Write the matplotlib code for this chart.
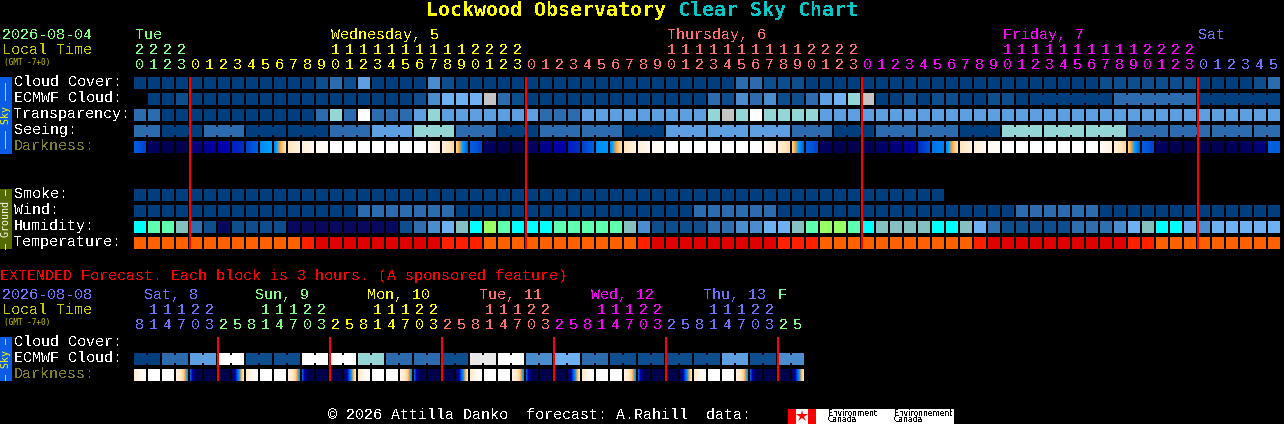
"""
Clear Sky Chart for Lockwood Observatory
"""
import numpy as np
import matplotlib
matplotlib.use("Agg")
import matplotlib.pyplot as plt
from matplotlib.colors import LinearSegmentedColormap

plt.rcParams["font.family"] = ["Liberation Mono", "DejaVu Sans Mono"]
plt.rcParams["text.antialiased"] = False

# hours of the hourly chart
hours = [20, 21, 22, 23] + list(range(24)) * 3 + [0, 1, 2, 3, 4, 5]
# which day each hour belongs to, index into day_colors
hour_days = [0] * 4 + [1] * 24 + [2] * 24 + [3] * 24 + [4] * 6
day_colors = ["#80ff80", "#ffff00", "#ff7070", "#ff00ff", "#7070ff"]
day_names = ["Tue", "Wednesday, 5", "Thursday, 6", "Friday, 7", "Sat"]
day_name_x = [135, 331, 667, 1003, 1198]

# sky rows, index into cloud_palette
cloud_palette = ["#003e7d", "#0f4e8e", "#2c6bad", "#4b8cce", "#5e9fe1",
                 "#6fb0f3", "#94d6d6", "#c4c4c4", "#e8e8e8", "#ffffff"]
cloud_cover = [0, 0, 0, 0, 0, 0, 0, 0, 0, 0, 0, 0, 0, 1, 2, 1, 4, 0, 0, 0,
               0, 3, 1, 0, 0, 0, 0, 0, 0, 0, 0, 0, 0, 0, 0, 0, 0, 0, 0, 0,
               0, 0, 0, 2, 2, 1, 1, 1, 0, 0, 0, 0, 0, 0, 0, 0, 0, 0, 0, 0,
               0, 0, 0, 0, 0, 0, 0, 0, 0, 1, 1, 1, 1, 1, 1, 1, 0, 0, 0, 0,
               1, 2]
ecmwf_cloud = [None, 0, 0, 1, 0, 0, 0, 0, 0, 0, 0, 0, 0, 0, 0, 0, 0, 0, 0, 0,
               1, 3, 5, 5, 5, 7, 2, 1, 0, 0, 0, 0, 0, 0, 0, 0, 0, 0, 0, 0,
               0, 2, 1, 3, 2, 3, 1, 1, 2, 4, 5, 6, 7, 0, 0, 1, 0, 1, 1, 0,
               0, 1, 1, 0, 0, 0, 0, 0, 0, 0, 2, 2, 2, 2, 2, 2, 0, 0, 0, 0,
               0, 0]
ecmwf_groups = [(64, 6), (70, 6), (76, 6)]
transparency = [2, 2, 0, 0, 0, 0, 0, 0, 0, 0, 0, 0, 0, 2, 6, 2, 9, 2, 2, 2,
                4, 6, 4, 4, 4, 4, 4, 4, 4, 2, 2, 2, 4, 4, 4, 4, 4, 4, 4, 4,
                4, 6, 7, 6, 9, 6, 6, 6, 6, 4, 4, 4, 4, 4, 4, 4, 4, 4, 4, 4,
                4, 4, 4, 4, 4, 4, 4, 4, 4, 4, 4, 4, 4, 4, 4, 4, 4, 4, 4, 4,
                4, 4]
seeing = [2, 2, 0, 0, 0, 2, 2, 2, 0, 0, 0, 0, 0, 0, 2, 2, 2, 4, 4, 4,
          6, 6, 6, 2, 2, 2, 0, 0, 0, 2, 2, 2, 2, 2, 2, 0, 0, 0, 4, 4,
          4, 4, 4, 4, 4, 4, 4, 2, 2, 2, 0, 0, 0, 2, 2, 2, 2, 2, 2, 0,
          0, 0, 6, 6, 6, 6, 6, 6, 6, 6, 6, 2, 2, 2, 2, 2, 2, 2, 2, 2,
          2, 2]
seeing_groups = [(0, 2)] + [(i, 3) for i in range(2, 80, 3)] + [(80, 2)]

# darkness at the left and right edge of each cell, 0 is daylight, 1 is dark
darkness_left = [.50, .92, .98, 1.0, .85, .72, .68, .60, .55, .42, .42, .16, .10, .04, 0, 0, 0, 0, 0, 0,
                 0, .02, .12, .24, .50, .92, .99, 1.0, .94, .78, .68, .60, .55, .42, .42, .16, .10, .04, 0, 0,
                 0, 0, 0, 0, 0, .02, .12, .24, .50, .92, .99, 1.0, .96, .92, .82, .74, .58, .46, .42, .16,
                 .10, .04, 0, 0, 0, 0, 0, 0, 0, .02, .12, .24, .50, .92, .99, 1.0, 1.0, .97, .95, .93,
                 .84, .50]
darkness_right = [.55, .95, .98, .98, .80, .70, .64, .58, .50, .38, .18, .10, .05, .02, 0, 0, 0, 0, 0, 0,
                  .01, .10, .20, .50, .55, .95, .99, .98, .92, .75, .66, .58, .50, .40, .18, .10, .05, .02, 0, 0,
                  0, 0, 0, 0, .01, .10, .20, .50, .55, .95, .99, .98, .94, .88, .80, .70, .52, .44, .18, .10,
                  .05, .02, 0, 0, 0, 0, 0, 0, .01, .10, .20, .50, .55, .95, .99, .98, .98, .96, .94, .90,
                  .80, .50]

# ground rows
smoke = [0] * 58
wind = [0] * 16 + [2] * 7 + [0] * 17 + [2] * 6 + [0] * 17 + [2] * 6 + [0] * 13
humidity_palette = ["#08085e", "#0f4e8e", "#2f6fb0", "#4b8cce", "#6fb0f3",
                    "#85c0c0", "#00ffff", "#5fffb0", "#99ff66"]
humidity = [6, 7, 7, 5, 2, 1, 0, 1, 1, 1, 1, 0, 0, 0, 0, 0, 0, 0, 0, 1,
            2, 3, 4, 5, 6, 8, 7, 6, 6, 6, 7, 7, 7, 7, 7, 5, 3, 1, 1, 1,
            1, 2, 2, 3, 3, 4, 4, 5, 7, 8, 8, 7, 6, 5, 5, 5, 5, 6, 6, 5,
            4, 2, 1, 1, 1, 1, 1, 2, 2, 2, 3, 4, 5, 6, 6, 4, 3, 4, 4, 4,
            4, 4]
temp_palette = ["#e00000", "#ff2000", "#ff6000"]
temperature = [2] * 12 + [1] + [0] * 9 + [1, 1, 1] + [2] * 11 + [1] + [0] * 9 + [1, 1, 1] \
    + [2] * 11 + [1] + [0] * 10 + [1, 1] + [2] * 9

# extended forecast, one value per 6 hour pair of blocks
ext_hours = [8, 11, 14, 17, 20, 23, 2, 5] * 6
ext_hour_days = [0] * 6 + [1] * 8 + [2] * 8 + [3] * 8 + [4] * 8 + [5] * 8 + [6] * 2
ext_day_colors = ["#7070ff", "#80ff80", "#ffff00", "#ff7070", "#ff00ff", "#7070ff", "#80ff80"]
ext_day_names = ["Sat, 8", "Sun, 9", "Mon, 10", "Tue, 11", "Wed, 12", "Thu, 13", "F"]
ext_day_x = [144, 255, 367, 479, 591, 703, 778]
ext_ecmwf = [0, 2, 4, 9, 1, 1, 9, 9, 6, 2, 2, 1, 8, 9, 3, 5, 2, 1, 1, 1, 1, 4, 1, 3]
ext_darkness_left = [.14, 0, 0, .08, .50, 1, 1, .85, .14, 0, 0, .08, .50, 1, 1, .85,
                     .14, 0, 0, .08, .50, 1, 1, .85, .14, 0, 0, .08, .50, 1, 1, .85,
                     .14, 0, 0, .08, .50, 1, 1, .85, .14, 0, 0, .08, .50, 1, 1, .85]
ext_darkness_mid = [.05, 0, 0, .18, 1, 1, 1, .46, .05, 0, 0, .18, 1, 1, 1, .46,
                    .05, 0, 0, .18, 1, 1, 1, .46, .05, 0, 0, .18, 1, 1, 1, .46,
                    .05, 0, 0, .18, 1, 1, 1, .46, .05, 0, 0, .18, 1, 1, 1, .46]
ext_darkness_right = [.02, 0, 0, .40, 1, 1, 1, .17, .02, 0, 0, .40, 1, 1, 1, .17,
                      .02, 0, 0, .40, 1, 1, 1, .17, .02, 0, 0, .40, 1, 1, 1, .17,
                      .02, 0, 0, .40, 1, 1, 1, .17, .02, 0, 0, .40, 1, 1, 1, .17]

LEFT = 134
PITCH = 14
SIZE = 12
FONT = 10.8

dark_cmap = LinearSegmentedColormap.from_list("dark", [
    (0.0, "#ffffff"), (0.15, "#ffe8c8"), (0.25, "#ffc880"), (0.30, "#ffa030"),
    (0.38, "#00a0ff"), (0.50, "#0060e0"), (0.65, "#0000b0"), (0.80, "#000080"),
    (1.0, "#00004c")])

fig = plt.figure(figsize=(12.84, 4.24), dpi=100, facecolor="black")
ax = fig.add_axes((0, 0, 1, 1))
ax.set_xlim(0, 1284)
ax.set_ylim(424, 0)
ax.axis("off")


def label(x, y, s, color="white", size=FONT, **kw):
    ax.text(x, y, s, color=color, fontsize=size, va="center", **kw)


def draw_row(y, values, palette, groups=()):
    xs = [LEFT + PITCH * i for i, v in enumerate(values) if v is not None]
    cols = [palette[v] for v in values if v is not None]
    ax.bar(xs, SIZE, width=SIZE, bottom=y, align="edge", color=cols, antialiased=False)
    # blocks of one forecast value are joined by a narrower bridge
    for start, n in groups:
        for i in range(start, start + n - 1):
            ax.bar(LEFT + PITCH * i + SIZE, 8, width=PITCH - SIZE, bottom=y + 2, align="edge",
                   color=palette[values[i]], antialiased=False)


def draw_darkness(y, left, right, mid=None):
    for i, (a, b) in enumerate(zip(left, right)):
        x0 = LEFT + PITCH * i
        m = (a + b) / 2 if mid is None else mid[i]
        vals = np.interp(np.linspace(0, 1, SIZE), [0, 0.5, 1], [a, m, b])
        ax.pcolormesh(np.arange(x0, x0 + SIZE + 1), [y, y + SIZE], [vals],
                      cmap=dark_cmap, vmin=0, vmax=1, antialiased=False, rasterized=True)


def draw_hours(y_tens, y_units, hrs, days, colors):
    for i, (h, d) in enumerate(zip(hrs, days)):
        x = LEFT + PITCH * i + 5.5
        label(x, y_units, str(h % 10), colors[d], ha="center")
        if h >= 10:
            label(x, y_tens, str(h // 10), colors[d], ha="center")


def day_lines(positions, y0, y1):
    for i in positions:
        ax.fill_between([LEFT + PITCH * i - 1, LEFT + PITCH * i + 1], y0, y1,
                        color="#ff0000", linewidth=0, antialiased=False, zorder=5)


# title
ax.text(426, 11, "Lockwood Observatory", color="#ffff00", fontsize=14.4, fontweight="bold",
        va="center", family="DejaVu Sans Mono")
ax.text(678, 11, "Clear Sky Chart", color="#00c8c8", fontsize=14.4, fontweight="bold",
        va="center", family="DejaVu Sans Mono")

# header of hourly chart
label(2, 35, "2026-08-04", "#80ff80")
label(2, 50, "Local Time", "#c8c800")
ax.text(4, 62, "(GMT -7+0)", color="#c8c800", fontsize=5.6, va="center", antialiased=True,
        family="DejaVu Sans Mono")
for name, x, col in zip(day_names, day_name_x, day_colors):
    label(x, 35, name, col)
draw_hours(50, 65, hours, hour_days, day_colors)

# sky block
sky_rows = [("Cloud Cover:", 77), ("ECMWF Cloud:", 93), ("Transparency:", 109), ("Seeing:", 125)]
for name, y in sky_rows:
    label(14, y + 5, name)
label(14, 146, "Darkness:", "#808020")
draw_row(77, cloud_cover, cloud_palette)
draw_row(93, ecmwf_cloud, cloud_palette, ecmwf_groups)
draw_row(109, transparency, cloud_palette)
draw_row(125, seeing, cloud_palette, seeing_groups)
draw_darkness(141, darkness_left, darkness_right)

# ground block
ground_rows = [("Smoke:", 189), ("Wind:", 205), ("Humidity:", 221), ("Temperature:", 237)]
for name, y in ground_rows:
    label(14, y + 5, name)
draw_row(189, smoke, cloud_palette)
draw_row(205, wind, cloud_palette)
draw_row(221, humidity, humidity_palette)
draw_row(237, temperature, temp_palette)
day_lines([4, 28, 52, 76], 77, 249)

# side bands
ax.bar(0, 77, width=12, bottom=77, align="edge", color="#0a5ce6", antialiased=False)
ax.bar(0, 60, width=12, bottom=189, align="edge", color="#556b00", antialiased=False)
ax.bar(0, 44, width=12, bottom=337, align="edge", color="#0a5ce6", antialiased=False)
band_kw = dict(fontsize=7.2, rotation=90, ha="center", va="center", antialiased=True,
               family="DejaVu Sans Mono")
ax.text(6, 115, "\u2013\u2013\u2013 Sky \u2013\u2013\u2013", color="#ffff00", **band_kw)
ax.text(6, 219, "\u2013 Ground \u2013", color="white", **band_kw)
ax.text(6, 359, "\u2013 Sky \u2013", color="#ffff00", **band_kw)

# extended forecast
label(0, 276, "EXTENDED Forecast. Each block is 3 hours. (A sponsored feature)", "#ff0000")
label(2, 295, "2026-08-08", "#7070ff")
label(2, 310, "Local Time", "#c8c800")
ax.text(4, 322, "(GMT -7+0)", color="#c8c800", fontsize=5.6, va="center", antialiased=True,
        family="DejaVu Sans Mono")
for name, x, col in zip(ext_day_names, ext_day_x, ext_day_colors):
    label(x, 295, name, col)
draw_hours(310, 325, ext_hours, ext_hour_days, ext_day_colors)
label(14, 342, "Cloud Cover:")
label(14, 358, "ECMWF Cloud:")
label(14, 374, "Darkness:", "#808020")
ext_cells = [v for v in ext_ecmwf for _ in range(2)]
draw_row(353, ext_cells, cloud_palette, [(i, 2) for i in range(0, 48, 2)])
draw_darkness(369, ext_darkness_left, ext_darkness_right, ext_darkness_mid)
day_lines([6, 14, 22, 30, 38, 46], 337, 381)

# footer with the data credit
label(328, 415, "\u00a9 2026 Attilla Danko  forecast: A.Rahill  data:")
ax.bar(788, 15, width=166, bottom=409, align="edge", color="white", antialiased=False)
ax.bar([788, 808], 15, width=8, bottom=409, align="edge", color="#ff0000", antialiased=False)
ax.plot([802], [416], marker="*", markersize=9, color="#ff0000", markeredgewidth=0)
ax.text(828, 413, "Environment", color="black", fontsize=5.5, va="center", family="DejaVu Sans")
ax.text(828, 420, "Canada", color="black", fontsize=5.5, va="center", family="DejaVu Sans")
ax.text(894, 413, "Environnement", color="black", fontsize=5.5, va="center", family="DejaVu Sans")
ax.text(894, 420, "Canada", color="black", fontsize=5.5, va="center", family="DejaVu Sans")

fig.savefig("out.png", dpi=100, facecolor="black")
